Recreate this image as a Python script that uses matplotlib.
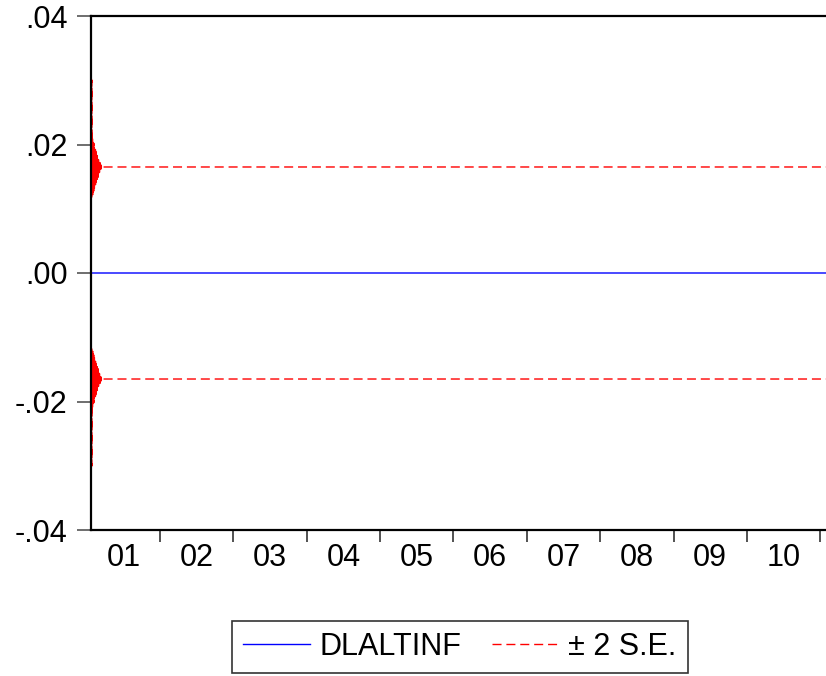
import matplotlib
matplotlib.use("Agg")
import matplotlib.pyplot as plt
import numpy as np
import pandas as pd

# ---- data ----
start_date = "2001-01-22"
end_date = "2011-03-31"
# ±2 S.E. band: early oscillating values, then settled level
se_head = [0.0305, 0.0118, 0.0302, 0.0114, 0.0300, 0.0120, 0.0210, 0.0122,
           0.0206, 0.0125, 0.0202, 0.0128, 0.0198, 0.0131, 0.0195, 0.0134,
           0.0192, 0.0137, 0.0189, 0.0140, 0.0186, 0.0143, 0.0183, 0.0146,
           0.0180, 0.0149, 0.0178, 0.0152, 0.0176, 0.0155, 0.0174, 0.0157,
           0.0172, 0.0159, 0.0170, 0.0161, 0.0168, 0.0162, 0.0167, 0.0164]
se_level = 0.0165
years = list(range(2001, 2012))
year_labels = ["01", "02", "03", "04", "05", "06", "07", "08", "09", "10"]
y_ticks = [-0.04, -0.02, 0.0, 0.02, 0.04]
y_labels = ["-.04", "-.02", ".00", ".02", ".04"]

dates = pd.bdate_range(start_date, end_date)
n = len(dates)
se = np.array(se_head + [se_level] * (n - len(se_head)))
dlaltinf = np.array([0.0] * n)

plt.rcParams['font.family'] = ['Liberation Sans', 'DejaVu Sans']

fig = plt.figure(figsize=(8.26, 6.76), dpi=100)
ax = fig.add_axes([91/826, 1-530/676, 1-91/826, (530-16)/676])

dash = (0, (6.5, 3.5))
ax.plot(dates, dlaltinf, color="#0000FF", lw=1.0, label="DLALTINF")
ax.plot(dates, se, color="#FF0000", lw=1.0, linestyle=dash, label="± 2 S.E.")
ax.plot(dates, -se, color="#FF0000", lw=1.0, linestyle=dash)

ax.set_ylim(-0.04, 0.04)
# axis spans from data start to a little past the start of 2011
ax.set_xlim(dates[0], pd.Timestamp("2011-01-30"))

ax.set_yticks(y_ticks)
ax.set_yticklabels(y_labels, fontsize=22)
ax.tick_params(axis='y', direction='out', length=10, width=1.2, color='#555555', pad=7)

major = [pd.Timestamp(f"{y}-01-01") for y in years[1:]]
minor = [pd.Timestamp(f"{y}-07-02") for y in years[:-1]]
ax.set_xticks(major)
ax.set_xticklabels([""] * len(major))
ax.set_xticks(minor, minor=True)
ax.set_xticklabels(year_labels, minor=True, fontsize=22)
ax.tick_params(axis='x', which='major', direction='out', length=8.6, width=1.2, color='#333333')
ax.tick_params(axis='x', which='minor', length=0, pad=9)

for s in ['left', 'bottom', 'top']:
    ax.spines[s].set_linewidth(1.6)
    ax.spines[s].set_color('black')
ax.spines['right'].set_visible(False)

leg = fig.legend(handles=ax.get_lines()[:2], loc='upper center',
                 bbox_to_anchor=(460/826, 1-621/676), ncol=2, fontsize=22,
                 frameon=True, fancybox=False, edgecolor='black',
                 handlelength=2.2, handletextpad=0.3, columnspacing=1.0,
                 borderpad=0.36, borderaxespad=0)
leg.get_frame().set_linewidth(1.2)

fig.savefig("out.png", dpi=100)
